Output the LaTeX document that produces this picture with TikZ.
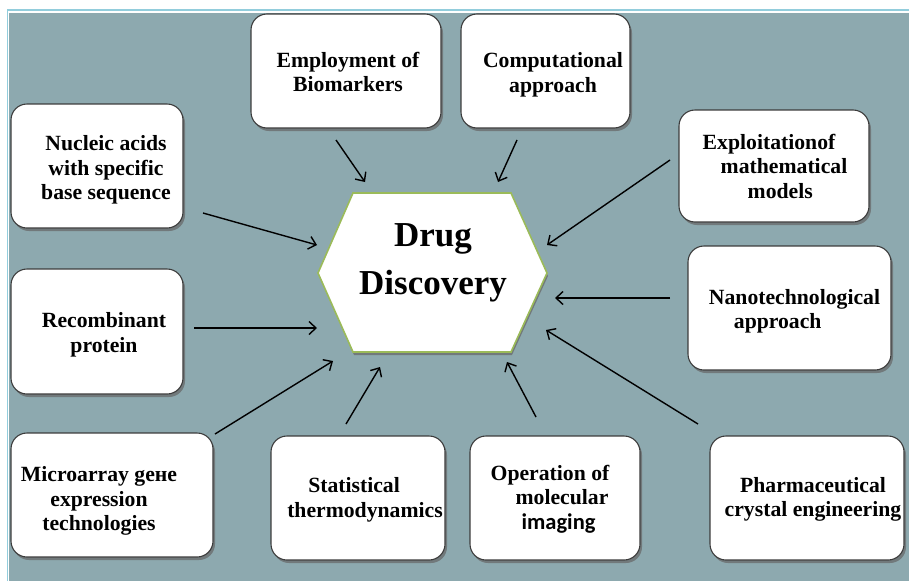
\documentclass[tikz,border=0pt]{standalone}
\usepackage{fontspec}
\setmainfont{Liberation Serif}
\newfontfamily\calib{Carlito}
\usetikzlibrary{arrows.meta,shadows}
\definecolor{bgc}{RGB}{141,169,175}
\definecolor{frm}{RGB}{146,205,220}
\definecolor{hexg}{RGB}{155,187,89}
\definecolor{bdr}{RGB}{60,60,60}
\begin{document}
\begin{tikzpicture}[x=1pt,y=-1pt,
  box/.style={draw=bdr, line width=1.1pt, fill=white, rounded corners=16pt, inner sep=0pt,
    drop shadow={shadow xshift=2pt, shadow yshift=-3pt, fill=black!60, opacity=0.7}},
  lbl/.style={font=\fontsize{21.7}{24.5}\selectfont\bfseries, inner sep=0pt},
  arr/.style={line width=1.4pt, -{Straight Barb[length=7pt,width=13pt]}}]
\useasboundingbox (0,0) rectangle (909,581);
\fill[bgc] (9,13) rectangle (909,581);
\draw[frm, line width=1.5pt] (7.5,581) -- (7.5,10) -- (909,10);

% hexagon
\draw[hexg, line width=1.6pt, fill=white,
  drop shadow={shadow xshift=1pt, shadow yshift=-3pt, fill=black!60, opacity=0.7}]
  (353,193) -- (511,193) -- (547,273) -- (511,352) -- (353,352) -- (318,273) -- cycle;
\node[font=\fontsize{35}{48}\selectfont\bfseries, align=center, inner sep=0pt] (dd) at (433,263) {Drug\\Discovery};

% boxes
\node[box, minimum width=190pt, minimum height=114pt] (biom) at (346,71) {};
\node[box, minimum width=169pt, minimum height=114pt] (comp) at (545.5,71) {};
\node[box, minimum width=190pt, minimum height=112pt] (expl) at (774,166) {};
\node[box, minimum width=172pt, minimum height=124pt] (nucl) at (97,166) {};
\node[box, minimum width=172pt, minimum height=125pt] (reco) at (97,331.5) {};
\node[box, minimum width=202pt, minimum height=124pt] (micr) at (112,495) {};
\node[box, minimum width=174pt, minimum height=124pt] (stat) at (358,498) {};
\node[box, minimum width=170pt, minimum height=124pt] (oper) at (555,498) {};
\node[box, minimum width=203pt, minimum height=124pt] (nano) at (789.5,308) {};
\node[box, minimum width=194pt, minimum height=124pt] (phar) at (807,498) {};

% labels
\node[lbl, align=center] (tbiom) at (348,72) {Employment of\\Biomarkers};
\node[lbl, align=center] (tcomp) at (553,75) {Computational\\approach};
\node[lbl, align=left] (texpl) at (775,166) {Exploitationof\\\hspace*{18pt}mathematical\\\hspace*{45pt}models};
\node[lbl, align=center] (tnucl) at (106,170) {Nucleic acids\\with specific\\base sequence};
\node[lbl, align=center] (treco) at (104,335) {Recombinant\\protein};
\node[lbl, align=center] (tmicr) at (99,501) {Microarray geнe\\expression\\technologies};
\node[lbl, align=left] (tstat) at (365,500) {\hspace*{21pt}Statistical\\thermodynamics};
\node[lbl, align=left] (toper) at (550,499) {Operation of\\\hspace*{25pt}molecular\\\hspace*{31pt}{\calib\fontsize{22.5}{24.5}\selectfont\bfseries imaging}};
\node[lbl, align=left] (tnano) at (794.5,311.5) {Nanotechnological\\\hspace*{25pt}approach};
\node[lbl, align=center] (tphar) at (813,499.5) {Pharmaceutical\\crystal engineering};

% arrow end points
\coordinate (a1) at (336,140); \coordinate (b1) at (365,182);
\coordinate (a2) at (517,140); \coordinate (b2) at (498,182);
\coordinate (a3) at (670,160); \coordinate (b3) at (547,245);
\coordinate (a4) at (203,213); \coordinate (b4) at (317,245);
\coordinate (a5) at (194,328); \coordinate (b5) at (317,328);
\coordinate (a6) at (215,434); \coordinate (b6) at (333,361);
\coordinate (a7) at (346,424); \coordinate (b7) at (380,367);
\coordinate (a8) at (536,417); \coordinate (b8) at (507,362);
\coordinate (a9) at (670,298); \coordinate (b9) at (555,298);
\coordinate (a10) at (698,424); \coordinate (b10) at (546,330);
\foreach \i in {1,...,10} \draw[arr] (a\i) -- (b\i);
\end{tikzpicture}
\end{document}
